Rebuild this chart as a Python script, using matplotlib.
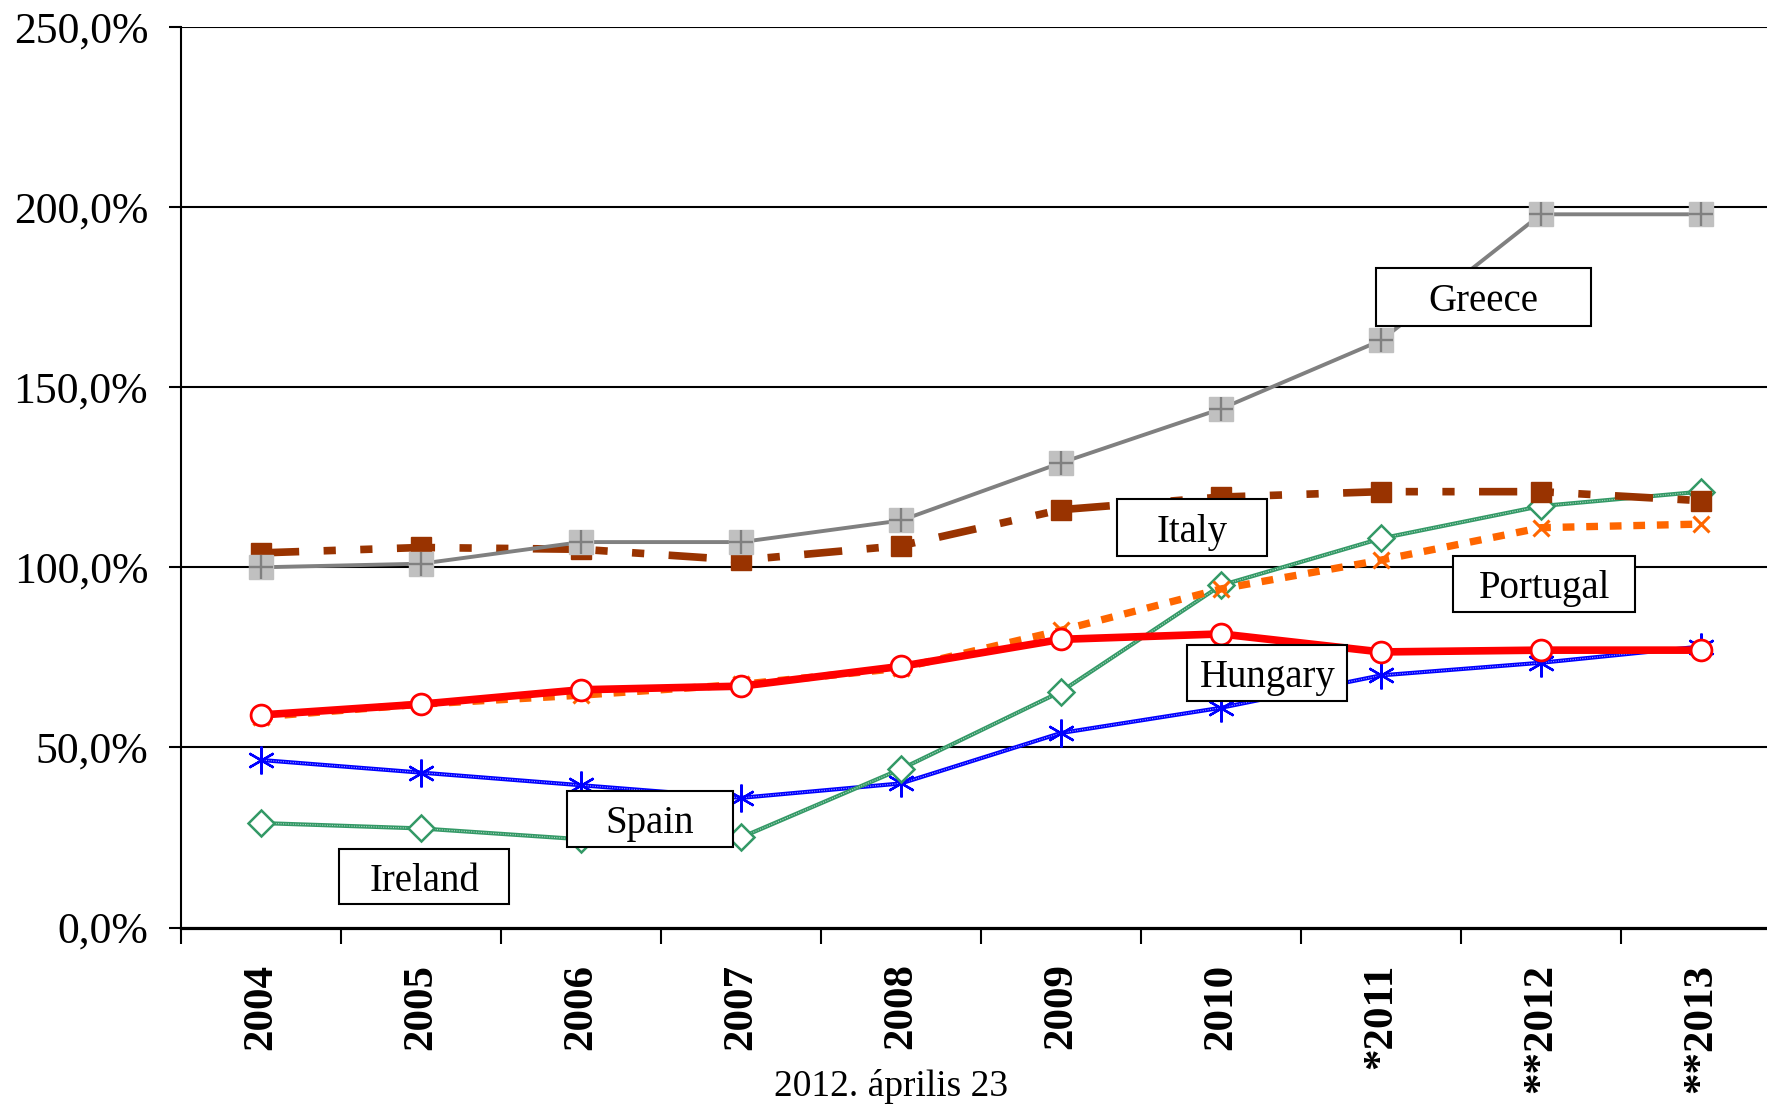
import matplotlib
matplotlib.use("Agg")
import matplotlib.pyplot as plt
from matplotlib.patches import Rectangle

plt.rcParams["font.family"] = ["Liberation Serif", "DejaVu Serif"]

years = ["2004", "2005", "2006", "2007", "2008", "2009", "2010", "*2011", "**2012", "**2013"]
greece = [100, 101, 107, 107, 113, 129, 144, 163, 198, 198]
italy = [104, 105.5, 105, 102, 106, 116, 119.5, 121, 121, 118.5]
portugal = [58.5, 62, 64.5, 67.5, 72, 82.5, 94, 102, 111, 112]
hungary = [59, 62, 66, 67, 72.5, 80, 81.5, 76.5, 77, 77]
spain = [46.5, 43, 39.5, 36, 40, 54, 61, 70, 73.5, 78]
ireland = [29, 27.5, 24.5, 25, 44, 65.5, 95, 108, 117, 121]
footer = "2012. április 23"

x = list(range(len(years)))

fig = plt.figure(figsize=(17.67, 11.06), dpi=100)
ax = fig.add_axes([181 / 1767, 178.5 / 1106, 1600 / 1767, 900.5 / 1106])

# thin hatched-looking lines first
ax.plot(x, spain, color="#0000FF", lw=3, zorder=3)
ax.plot(x, spain, color="white", lw=0.8, dashes=(1, 1.2), alpha=0.6, zorder=3)
ax.plot(x, spain, ls="none", marker=(6, 2, 0), ms=20, mec="#0000FF", mew=1.7, zorder=4)

ax.plot(x, ireland, color="#339966", lw=3, zorder=3)
ax.plot(x, ireland, color="white", lw=0.8, dashes=(1, 1.2), alpha=0.6, zorder=3)
ax.plot(x, ireland, ls="none", marker="D", ms=13, mfc="white", mec="#339966", mew=1.8, zorder=4)

ax.plot(x, portugal, color="#FF6600", lw=5.3, dashes=(1.6, 1.6), marker="x", ms=12,
        mec="#FF6600", mew=2.2, zorder=5)

ax.plot(x, hungary, color="#FF0000", lw=5.5, zorder=6)
ax.plot(x, hungary, ls="none", marker="o", ms=15, mfc="white", mec="#FF0000", mew=2, zorder=7)

ax.plot(x, italy, color="#993300", lw=5.5, dashes=(5, 3.2, 1.6, 3.2, 1.6, 3.2),
        marker="s", ms=14, mfc="#993300", mec="#993300", zorder=5)

ax.plot(x, greece, color="#808080", lw=2.8, zorder=8)
ax.plot(x, greece, ls="none", marker="s", ms=17, mfc="#C0C0C0", mec="#C0C0C0", zorder=9)
ax.plot(x, greece, ls="none", marker="+", ms=17, mec="#808080", mew=1.7, zorder=10)

ax.set_xlim(-0.5, 9.5)
ax.set_ylim(0, 250)

for v in [50, 100, 150, 200, 250]:
    ax.axhline(v, color="black", lw=1.5, zorder=1)

for s in ["top", "right"]:
    ax.spines[s].set_visible(False)
ax.spines["left"].set_linewidth(1.5)
ax.spines["bottom"].set_linewidth(2.3)
ax.spines["bottom"].set_zorder(12)

ax.set_yticks([0, 50, 100, 150, 200, 250])
ax.set_yticklabels([f"{v:.1f}%".replace(".", ",") for v in [0, 50, 100, 150, 200, 250]],
                   fontsize=31.5)
ax.tick_params(axis="y", direction="out", length=8.6, width=1.5, pad=15)

ax.set_xticks(x)
ax.set_xticklabels(years, rotation=90, fontsize=31, fontweight="bold")
ax.tick_params(axis="x", which="major", length=0, pad=26)
ax.set_xticks([i - 0.5 for i in range(len(years) + 1)], minor=True)
ax.tick_params(axis="x", which="minor", direction="out", length=11.5, width=1.5)

# country label boxes: (name, x centre, y centre, width, height) in data units
boxes = [
    ("Greece", 7.64, 175, 1.34, 16),
    ("Italy", 5.82, 111, 0.94, 15.8),
    ("Portugal", 8.02, 95.3, 1.14, 15.5),
    ("Hungary", 6.29, 70.6, 1.0, 15.5),
    ("Spain", 2.43, 30.1, 1.04, 15.5),
    ("Ireland", 1.02, 14.2, 1.06, 15.3),
]
for name, cx, cy, w, h in boxes:
    ax.add_patch(Rectangle((cx - w / 2, cy - h / 2), w, h, facecolor="white",
                           edgecolor="black", lw=1.5, zorder=20))
    ax.text(cx, cy - 1.3, name, ha="center", va="center", fontsize=28, zorder=21)

fig.text(891 / 1767, 19 / 1106, footer, ha="center", va="center", fontsize=27)

fig.savefig("out.png", dpi=100)
